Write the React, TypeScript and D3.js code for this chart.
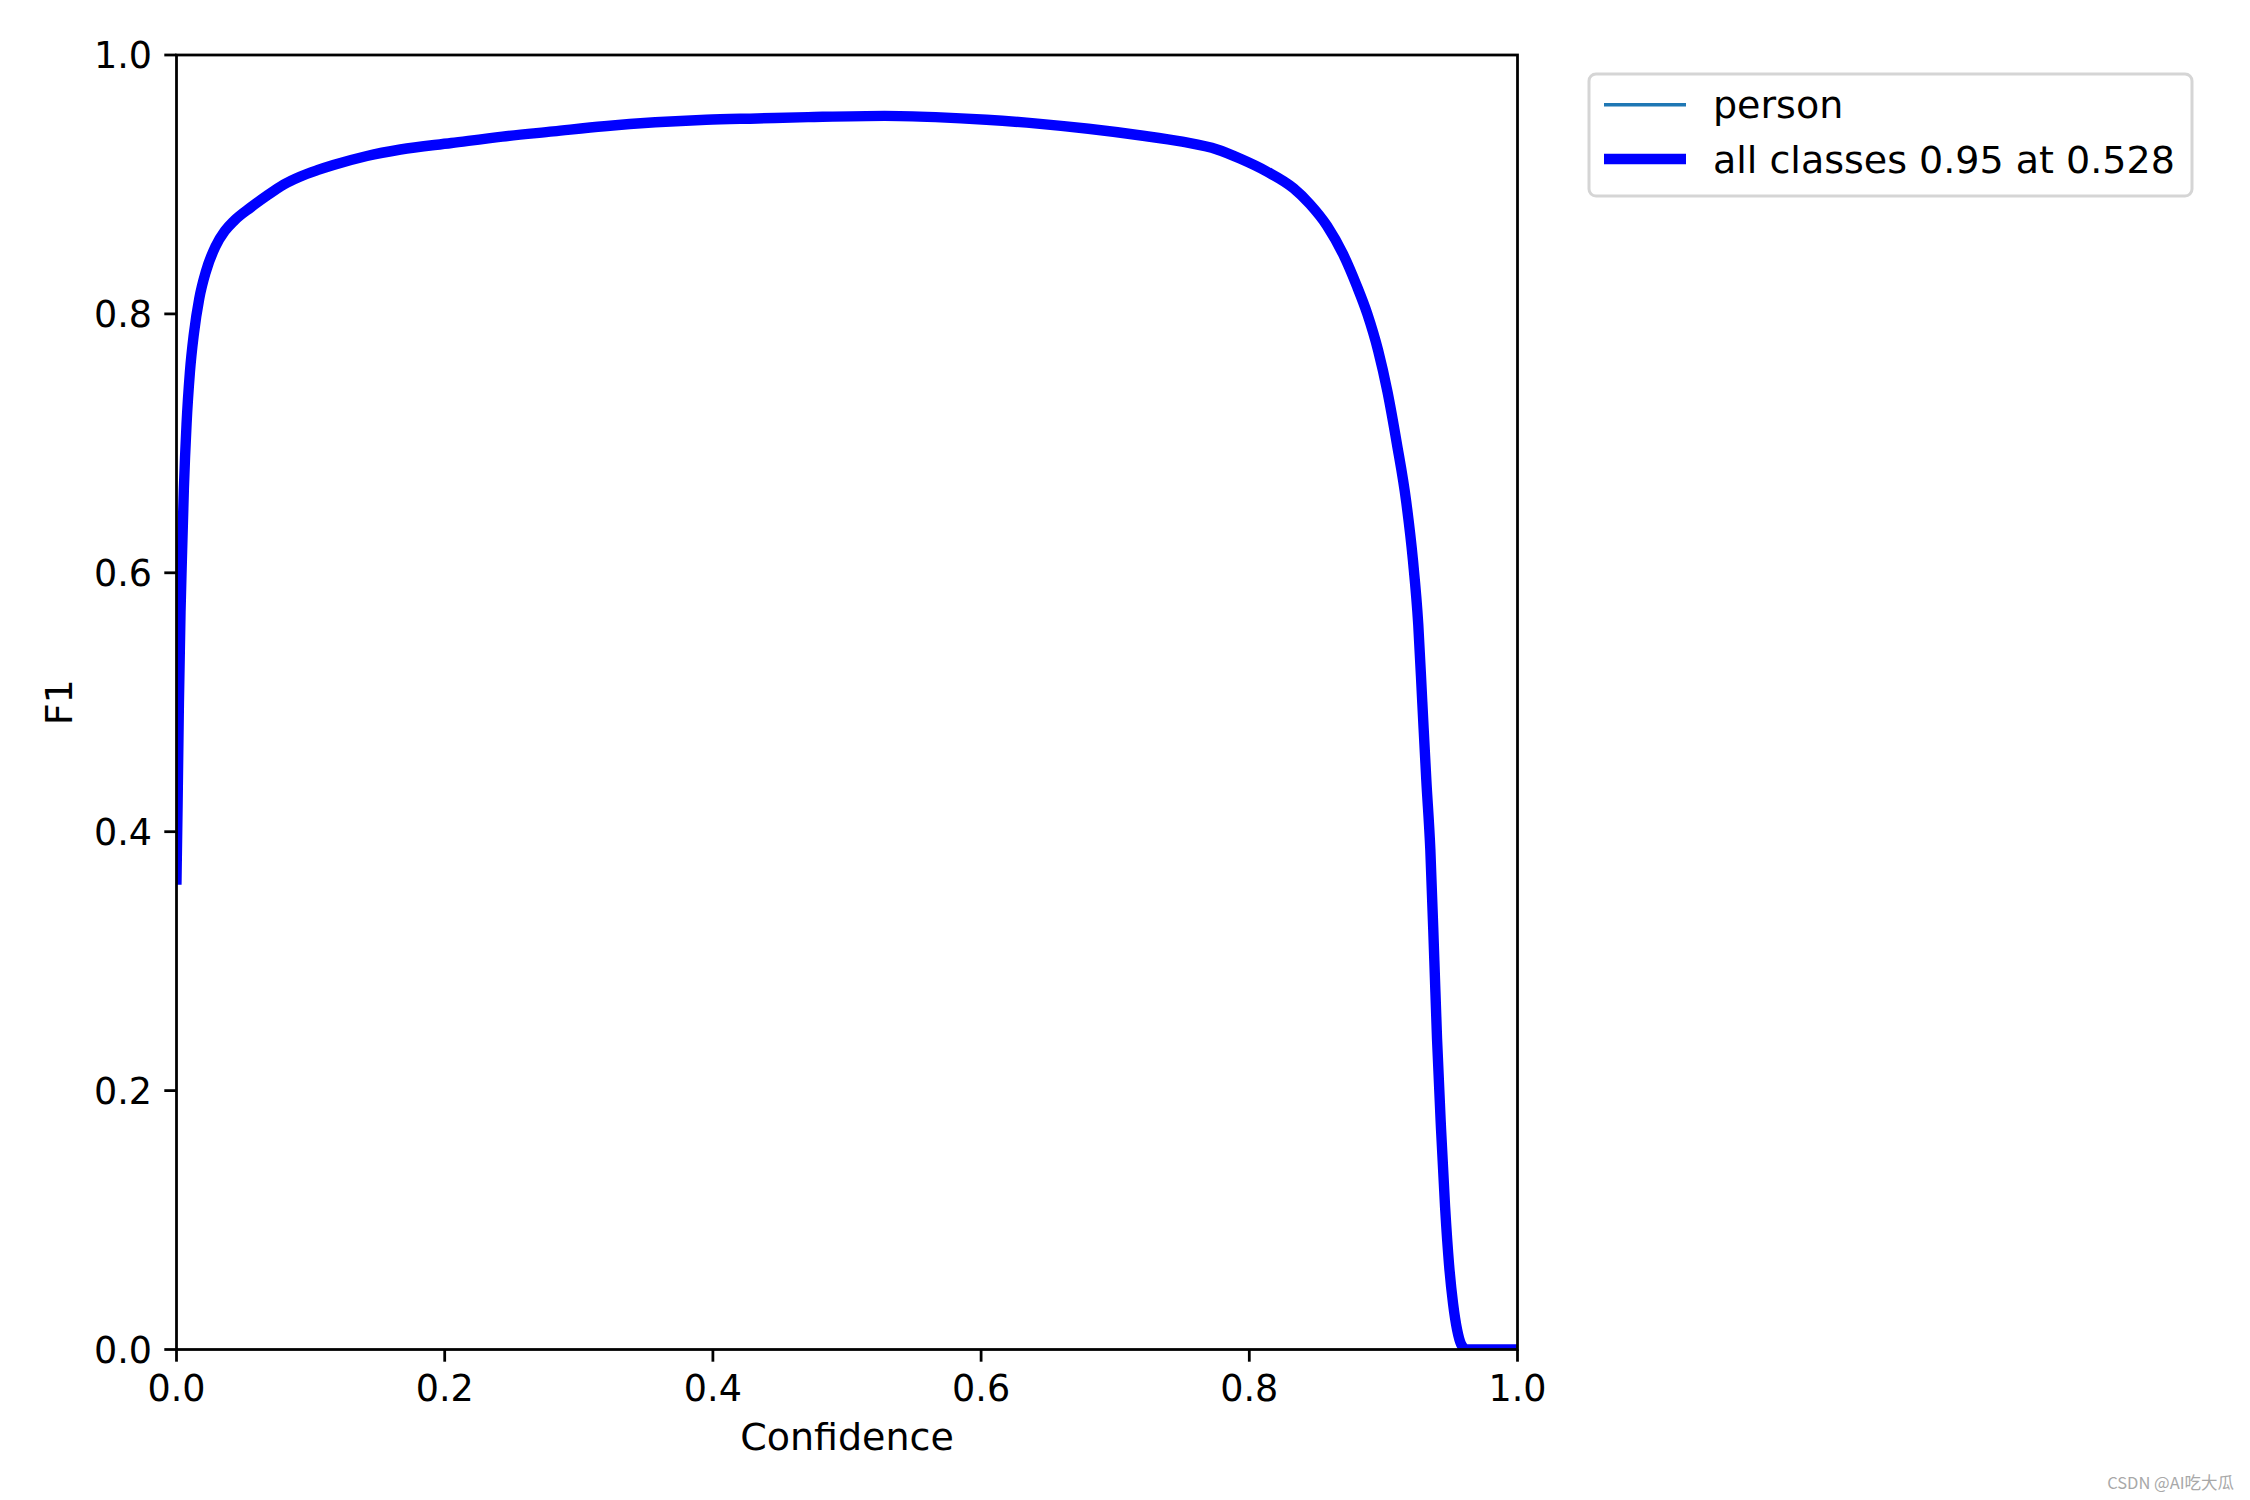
import React from "react";
import * as d3 from "d3";

const confidence = [
  0, 0.0008, 0.0018, 0.003, 0.004, 0.0055, 0.0075, 0.01, 0.013, 0.017, 0.022, 0.029, 0.036, 0.043,
  0.055, 0.067, 0.08, 0.092, 0.105, 0.117, 0.142, 0.167, 0.205, 0.243, 0.281, 0.319, 0.357, 0.395,
  0.433, 0.471, 0.528, 0.566, 0.604, 0.642, 0.68, 0.718, 0.75, 0.776, 0.793, 0.813, 0.833, 0.845,
  0.858, 0.87, 0.88, 0.888, 0.896, 0.903, 0.91, 0.917, 0.922, 0.926, 0.929, 0.932, 0.935, 0.938,
  0.94, 0.943, 0.946, 0.949, 0.952, 0.955, 0.958, 0.962, 1.0,
];
const f1Values = [
  0.363, 0.42, 0.5, 0.57, 0.61, 0.665, 0.715, 0.755, 0.785, 0.812, 0.833, 0.852, 0.864, 0.872,
  0.882, 0.891, 0.9, 0.906, 0.911, 0.915, 0.922, 0.927, 0.932, 0.937, 0.941, 0.945, 0.948, 0.95,
  0.951, 0.952, 0.953, 0.952, 0.95, 0.947, 0.943, 0.938, 0.933, 0.927, 0.92, 0.91, 0.897, 0.885,
  0.868, 0.846, 0.822, 0.8, 0.772, 0.74, 0.7, 0.655, 0.61, 0.56, 0.5, 0.44, 0.386, 0.3,
  0.24, 0.17, 0.11, 0.065, 0.035, 0.015, 0.004, 0.0, 0.0,
];
const xTicks = [0, 0.2, 0.4, 0.6, 0.8, 1.0];
const yTicks = [0, 0.2, 0.4, 0.6, 0.8, 1.0];
const legendLabels = ["person", "all classes 0.95 at 0.528"];

const W = 2250;
const H = 1500;
const left = 176.5;
const right = 1517.5;
const top = 55;
const bottom = 1349.5;
const FONT = "DejaVu Sans, sans-serif";
const TICK_FONT = 36.5;

export default function App() {
  const x = d3.scaleLinear().domain([0, 1]).range([left, right]);
  const y = d3.scaleLinear().domain([0, 1]).range([bottom, top]);
  const data = confidence.map((c, i) => [c, f1Values[i]] as [number, number]);
  const line = d3
    .line<[number, number]>()
    .x((d) => x(d[0]))
    .y((d) => y(d[1]))
    .curve(d3.curveMonotoneX);
  const path = line(data) || "";
  const spine = 2.78;
  const tickLen = 12.2;

  const legX = 1589;
  const legY = 74;
  const legW = 603;
  const legH = 122;
  const rowY = [104.8, 159];

  return (
    <svg
      width={W}
      height={H}
      style={{ position: "absolute", left: 0, top: 0, background: "#fff" }}
      xmlns="http://www.w3.org/2000/svg"
    >
      <rect x={0} y={0} width={W} height={H} fill="#fff" />
      <defs>
        <clipPath id="plotClip">
          <rect x={left} y={top} width={right - left} height={bottom - top} />
        </clipPath>
      </defs>
      <g clipPath="url(#plotClip)">
        <path d={path} fill="none" stroke="#1f77b4" strokeWidth={3.47} strokeLinejoin="round" />
        <path
          d={path}
          fill="none"
          stroke="#0000ff"
          strokeWidth={10.4}
          strokeLinejoin="round"
          strokeLinecap="square"
        />
      </g>
      <rect
        x={left}
        y={top}
        width={right - left}
        height={bottom - top}
        fill="none"
        stroke="#000"
        strokeWidth={spine}
      />
      {xTicks.map((t) => (
        <g key={"x" + t}>
          <line x1={x(t)} x2={x(t)} y1={bottom} y2={bottom + tickLen} stroke="#000" strokeWidth={spine} />
          <text
            x={x(t)}
            y={bottom + tickLen + 12.2 + 27}
            textAnchor="middle"
            fontFamily={FONT}
            fontSize={TICK_FONT}
            fill="#000"
          >
            {t.toFixed(1)}
          </text>
        </g>
      ))}
      {yTicks.map((t) => (
        <g key={"y" + t}>
          <line x1={left - tickLen} x2={left} y1={y(t)} y2={y(t)} stroke="#000" strokeWidth={spine} />
          <text
            x={left - tickLen - 12.2}
            y={y(t)}
            dy="0.36em"
            textAnchor="end"
            fontFamily={FONT}
            fontSize={TICK_FONT}
            fill="#000"
          >
            {t.toFixed(1)}
          </text>
        </g>
      ))}
      <text
        x={(left + right) / 2}
        y={1450}
        textAnchor="middle"
        fontFamily={FONT}
        fontSize={38}
        fill="#000"
      >
        Confidence
      </text>
      <text
        transform={`translate(72, ${(top + bottom) / 2}) rotate(-90)`}
        textAnchor="middle"
        fontFamily={FONT}
        fontSize={38}
        fill="#000"
      >
        F1
      </text>
      <rect
        x={legX}
        y={legY}
        width={legW}
        height={legH}
        rx={7}
        ry={7}
        fill="#fff"
        fillOpacity={0.8}
        stroke="#d5d5d5"
        strokeWidth={3}
      />
      <line x1={1604} x2={1686} y1={rowY[0]} y2={rowY[0]} stroke="#1f77b4" strokeWidth={3.47} />
      <line x1={1604} x2={1686} y1={rowY[1]} y2={rowY[1]} stroke="#0000ff" strokeWidth={10.4} />
      {legendLabels.map((l, i) => (
        <text
          key={l}
          x={1713}
          y={rowY[i]}
          dy="0.36em"
          fontFamily={FONT}
          fontSize={38}
          fill="#000"
        >
          {l}
        </text>
      ))}
      <text
        x={2234}
        y={1489}
        textAnchor="end"
        fontFamily="'Noto Sans CJK SC', sans-serif"
        fontSize={16.5}
        fill="#a8a8a8"
      >
        CSDN @AI吃大瓜
      </text>
    </svg>
  );
}
